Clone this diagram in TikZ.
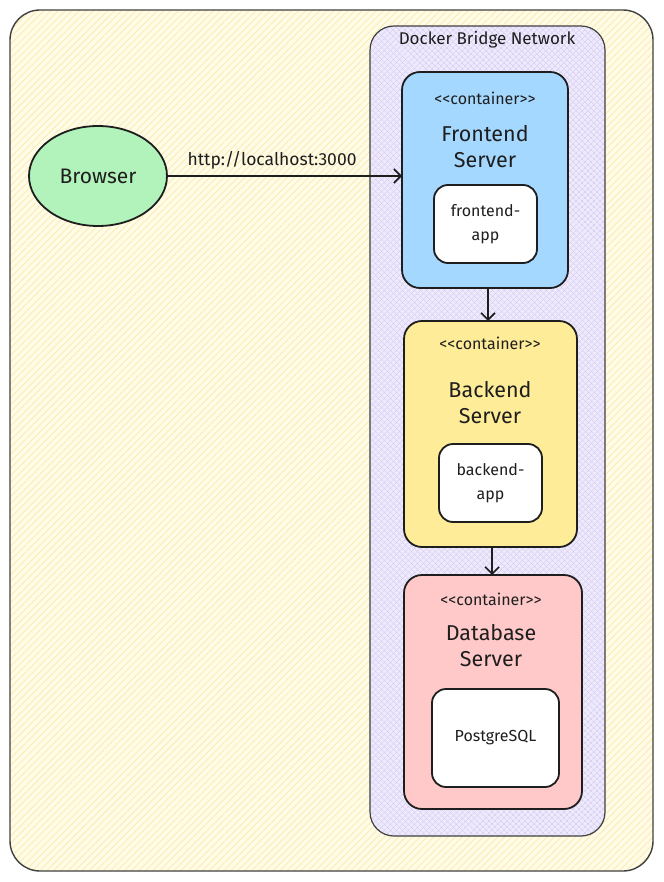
\documentclass[tikz,border=0pt]{standalone}
\usepackage{fontspec}
\setmainfont{Fira Sans}
\usetikzlibrary{arrows.meta,patterns.meta,shapes.geometric}
\definecolor{ink}{HTML}{1E1E1E}
\definecolor{bgyel}{HTML}{FFFBE6}
\definecolor{hatyel}{HTML}{F8EBAA}
\definecolor{bglav}{HTML}{EEEAFB}
\definecolor{hatlav}{HTML}{D2C8F2}
\definecolor{feblue}{HTML}{A5D8FF}
\definecolor{beyel}{HTML}{FFEC99}
\definecolor{dbred}{HTML}{FFC9C9}
\definecolor{brgreen}{HTML}{B2F2BB}
\newcommand{\stereotext}{{<}{<}container{>}{>}}
\tikzset{
  box/.style={draw=ink,line width=1.8pt,rounded corners=18pt},
  inner/.style={draw=ink,line width=1.8pt,rounded corners=14pt,fill=white},
  conn/.style={draw=ink,line width=1.6pt,-{Straight Barb[length=7pt,width=14pt,line width=1.6pt]}},
  stereo/.style={font=\fontsize{16}{18}\selectfont,text=ink},
  title/.style={font=\fontsize{21.5}{26}\selectfont,text=ink,align=center},
  small/.style={font=\fontsize{16}{24}\selectfont,text=ink,align=center},
}
\begin{document}
\begin{tikzpicture}[x=1pt,y=-1pt]
\useasboundingbox (0,0) rectangle (663,882);
\fill[white] (0,0) rectangle (663,882);
% outer frame
\path[fill=bgyel,rounded corners=30pt] (10,10) rectangle (653,871);
\path[pattern={Lines[angle=45,distance=5pt,line width=0.7pt]},pattern color=hatyel,rounded corners=30pt] (10,10) rectangle (653,871);
\draw[draw=ink!85,line width=1.4pt,rounded corners=30pt] (10,10) rectangle (653,871);
% docker network
\path[fill=bglav,rounded corners=24pt] (370,26) rectangle (605,836);
\path[pattern={Lines[angle=45,distance=4pt,line width=0.6pt]},pattern color=hatlav,rounded corners=24pt] (370,26) rectangle (605,836);
\path[pattern={Lines[angle=-45,distance=4pt,line width=0.6pt]},pattern color=hatlav,rounded corners=24pt] (370,26) rectangle (605,836);
\draw[draw=ink!85,line width=1.2pt,rounded corners=24pt] (370,26) rectangle (605,836);
\node[text=ink,font=\fontsize{17}{19}\selectfont] (netlbl) at (487,40) {Docker Bridge Network};
% frontend
\draw[box,fill=feblue] (402,72) rectangle (568,288);
\node[stereo] (fest) at (485,98) {\stereotext};
\node[title] (fet) at (485,147) {Frontend\\Server};
\draw[inner] (434,185) rectangle (537,263);
\node[small] (fea) at (485.5,224) {frontend-\\app};
% backend
\draw[box,fill=beyel] (404,321) rectangle (577,547);
\node[stereo] (best) at (490,343) {\stereotext};
\node[title] (bet) at (490,403) {Backend\\Server};
\draw[inner] (439,444) rectangle (542,522);
\node[small] (bea) at (490.5,483) {backend-\\app};
% database
\draw[box,fill=dbred] (404,575) rectangle (582,809);
\node[stereo] (dbst) at (491,599) {\stereotext};
\node[title] (dbt) at (491,646) {Database\\Server};
\draw[inner] (432,689) rectangle (559,787);
\node[small] (dba) at (495.5,738) {PostgreSQL};
% connector end points on box edges
\coordinate (feB) at (488,288);
\coordinate (beT) at (488,321);
\coordinate (beB) at (492,547);
\coordinate (dbT) at (492,575);
\coordinate (feL) at (402,176);
% browser
\node[ellipse,draw=ink,line width=1.8pt,fill=brgreen,minimum width=138pt,minimum height=100pt,font=\fontsize{21}{24}\selectfont,text=ink] (br) at (98,176) {Browser};
\draw[conn] (br.east) -- (feL) node[pos=0.445,above=3pt,font=\fontsize{17.5}{19}\selectfont,text=ink] (lbl) {http://localhost:3000};
\draw[conn] (feB) -- (beT);
\draw[conn] (beB) -- (dbT);
\end{tikzpicture}
\end{document}
